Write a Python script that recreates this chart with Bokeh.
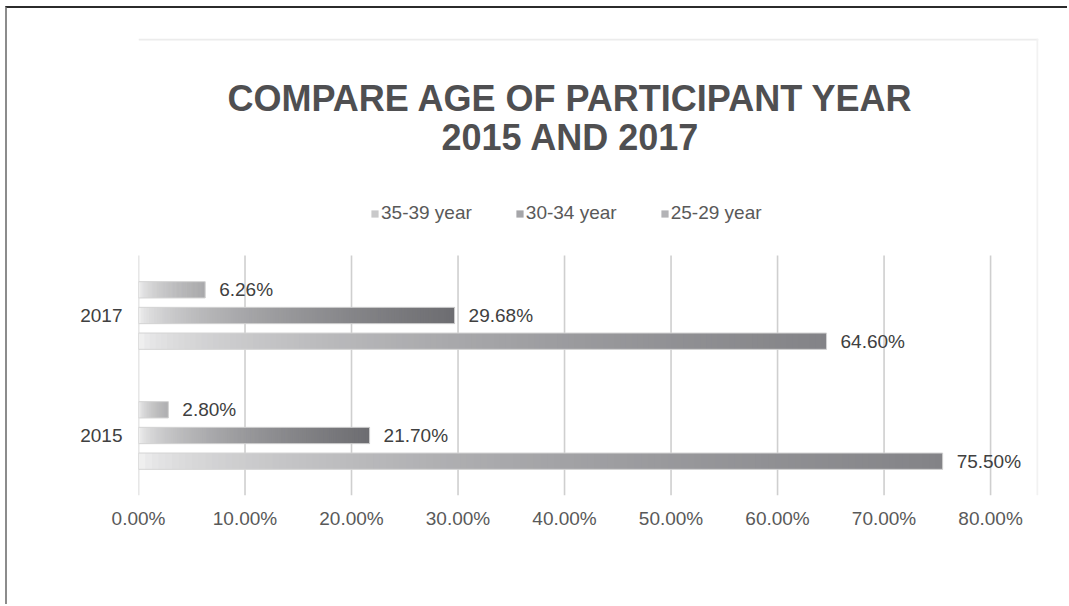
from bokeh.plotting import figure
from bokeh.models import (ColumnDataSource, Range1d, Label, Legend, LegendItem,
                          PrintfTickFormatter, FixedTicker, BoxAnnotation)
from bokeh.core.properties import value
from bokeh.embed import file_html
from bokeh.resources import INLINE

# ---- data ----
years = ["2015", "2017"]
series_names = ["35-39 year", "30-34 year", "25-29 year"]
age_35_39 = [2.80, 6.26]
age_30_34 = [21.70, 29.68]
age_25_29 = [75.50, 64.60]
x_ticks = [0, 10, 20, 30, 40, 50, 60, 70, 80]
title_lines = ["COMPARE AGE OF PARTICIPANT YEAR", "2015 AND 2017"]

# ---- layout (page pixels) ----
OX, OY = 7, 8                       # canvas origin on the page (after border)
W, H = 1069 - OX, 606 - OY
FL, FR, FT, FB = 138, 1038, 38, 495  # frame edges on the page
FONT = "Liberation Sans"
year_pos = [i + 0.5 for i in range(len(years))]   # category centres
y_top = (FB - FT) / 120.0                          # 120 px per category

p = figure(width=W, height=H, output_backend="svg", toolbar_location=None,
           x_range=Range1d(0, 84.5), y_range=Range1d(0, y_top),
           min_border_left=FL - OX, min_border_right=W - (FR - OX),
           min_border_top=FT - OY, min_border_bottom=H - (FB - OY),
           margin=(6, 0, 0, 5),
           styles={"border-top": "2px solid #2b2b2b", "border-left": "2px solid #8c8c8c"})
p.outline_line_color = None
p.background_fill_color = "white"
p.border_fill_color = "white"
p.xgrid.grid_line_color = None
p.ygrid.grid_line_color = None

p.xaxis.ticker = FixedTicker(ticks=x_ticks)
p.xaxis.formatter = PrintfTickFormatter(format="%.2f%%")
p.yaxis.ticker = FixedTicker(ticks=year_pos)
p.yaxis.major_label_overrides = {pos: yr for pos, yr in zip(year_pos, years)}
for ax in (p.xaxis[0], p.yaxis[0]):
    ax.axis_line_color = None
    ax.major_tick_line_color = None
    ax.minor_tick_line_color = None
    ax.major_tick_out = 0
    ax.major_tick_in = 0
    ax.major_label_text_font = FONT
    ax.major_label_text_font_size = "19px"
p.xaxis.major_label_text_color = "#595959"
p.yaxis.major_label_text_color = "#404040"
p.xaxis.major_label_standoff = 12
p.yaxis.major_label_standoff = 16

# vertical grid lines, only over the category area
gsrc = ColumnDataSource(dict(x=x_ticks))
p.segment(x0="x", x1="x", y0=0, y1=len(years), source=gsrc,
          line_color="#cfcfcf", line_width=1.6)

# ---- gradient bars ----
start = (0xf6, 0xf6, 0xf6)
ends = {"35-39 year": (0xa8, 0xa8, 0xaa),
        "30-34 year": (0x6d, 0x6d, 0x71),
        "25-29 year": (0x83, 0x83, 0x87)}
offsets = {"35-39 year": 0.214, "30-34 year": 0.0, "25-29 year": -0.214}
values = {"35-39 year": age_35_39, "30-34 year": age_30_34, "25-29 year": age_25_29}
BAR_H = 0.136
N = 120


def mix(t, c1):
    s = t ** 0.5
    return "#%02x%02x%02x" % tuple(int(round(a + (b - a) * s)) for a, b in zip(start, c1))


legend_items = []
for name in series_names:
    vals = values[name]
    ys, lefts, rights, cols = [], [], [], []
    for yp, v in zip(year_pos, vals):
        for i in range(N):
            ys.append(yp + offsets[name])
            lefts.append(v * i / N)
            rights.append(min(v, v * (i + 2) / N))   # overlap to hide seams
            cols.append(mix((i + 0.5) / N, ends[name]))
    src = ColumnDataSource(dict(y=ys, left=lefts, right=rights, color=cols))
    r = p.hbar(y="y", left="left", right="right", height=BAR_H,
               fill_color="color", line_color=None, source=src)
    legend_items.append(LegendItem(label=name, renderers=[r], index=N + N // 3))

    osrc = ColumnDataSource(dict(y=[yp + offsets[name] for yp in year_pos], v=vals,
                                 lbl=["%.2f%%" % v for v in vals]))
    p.hbar(y="y", left=0, right="v", height=BAR_H, fill_alpha=0,
           line_color="#d4d4d4", line_width=1, source=osrc)
    p.text(x="v", y="y", text="lbl", source=osrc,
           x_offset=14, text_baseline="middle", text_align="left",
           text_font=value(FONT), text_font_size="19px", text_color="#404040")

legend = Legend(items=legend_items, orientation="horizontal", location=(232, 271),
                glyph_width=9, glyph_height=9, label_standoff=2, spacing=43,
                padding=0, margin=0, border_line_color=None, background_fill_alpha=0,
                label_text_font=FONT, label_text_font_size="19px",
                label_text_color="#595959", label_height=18)
p.add_layout(legend)

# ---- title ----
for txt, cy in zip(title_lines, [97.5, 136.5]):
    p.add_layout(Label(x=570 - FL, y=FB - cy, x_units="screen", y_units="screen", text=txt,
                       text_align="center", text_baseline="middle", text_font=FONT,
                       text_font_size="36px", text_font_style="bold", text_color="#4f4f51"))

# ---- chart-area border (light) ----
p.add_layout(BoxAnnotation(left=0, right=FR - FL, top=FB - FT, bottom=FB - FT - 2,
                           left_units="screen", right_units="screen",
                           top_units="screen", bottom_units="screen",
                           fill_color="#ececec", fill_alpha=1, line_color=None))
p.add_layout(BoxAnnotation(left=FR - FL - 2, right=FR - FL, top=FB - FT, bottom=0,
                           left_units="screen", right_units="screen",
                           top_units="screen", bottom_units="screen",
                           fill_color="#f2f2f2", fill_alpha=1, line_color=None))

open("out.html", "w").write(file_html(p, INLINE))
